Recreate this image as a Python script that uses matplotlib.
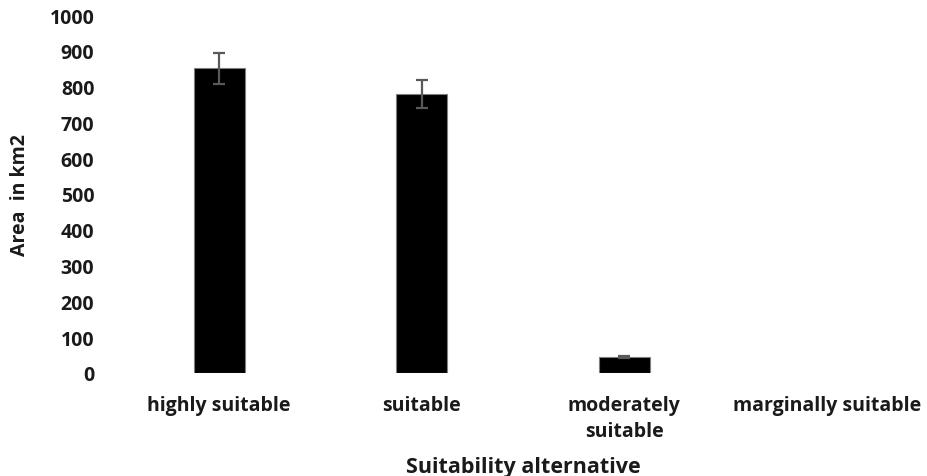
import numpy as np
import matplotlib
matplotlib.use("Agg")
import matplotlib.pyplot as plt

plt.rcParams['font.family'] = ['Open Sans', 'DejaVu Sans']

categories = ["highly suitable", "suitable", "moderately\nsuitable", "marginally suitable"]
area = [851, 779, 45, 0]
err = [43, 39, 3, 0]

fig = plt.figure(figsize=(9.28, 4.77), dpi=100)
ax = fig.add_axes([118 / 928, 103 / 477, 810 / 928, 358 / 477])

x = np.arange(len(categories))
shown = [i for i, v in enumerate(area) if v > 0]
ax.bar(x[shown], [area[i] for i in shown], width=0.25, color="black",
       edgecolor="#7f7f7f", linewidth=0.8)
ax.errorbar(x[shown], [area[i] for i in shown], yerr=[err[i] for i in shown],
            fmt="none", ecolor="#595959", elinewidth=1.6, capsize=4.3, capthick=1.6)

ax.set_xlim(-0.5, 3.5)
ax.set_ylim(0, 1000)
ax.set_yticks(np.arange(0, 1001, 100))
ax.set_xticks(x)
ax.set_xticklabels(categories, fontsize=14, fontweight="bold", color="#1a1a1a",
                   linespacing=1.4, va="top")
for lbl in ax.get_yticklabels():
    lbl.set_fontsize(14)
    lbl.set_fontweight("bold")
    lbl.set_color("#1a1a1a")
ax.tick_params(axis="both", length=0)
ax.tick_params(axis="x", pad=16)
ax.tick_params(axis="y", pad=17)
for s in ax.spines.values():
    s.set_visible(False)

ax.set_ylabel("Area  in km2", fontsize=14, fontweight="bold", color="#1a1a1a", va="center")
ax.yaxis.set_label_coords(-0.121, 0.5)
ax.set_xlabel("Suitability alternative", fontsize=15.5, fontweight="bold", color="#1a1a1a", va="center")
ax.xaxis.set_label_coords(0.5, -0.262)

fig.savefig("out.png", dpi=100, facecolor="white")
